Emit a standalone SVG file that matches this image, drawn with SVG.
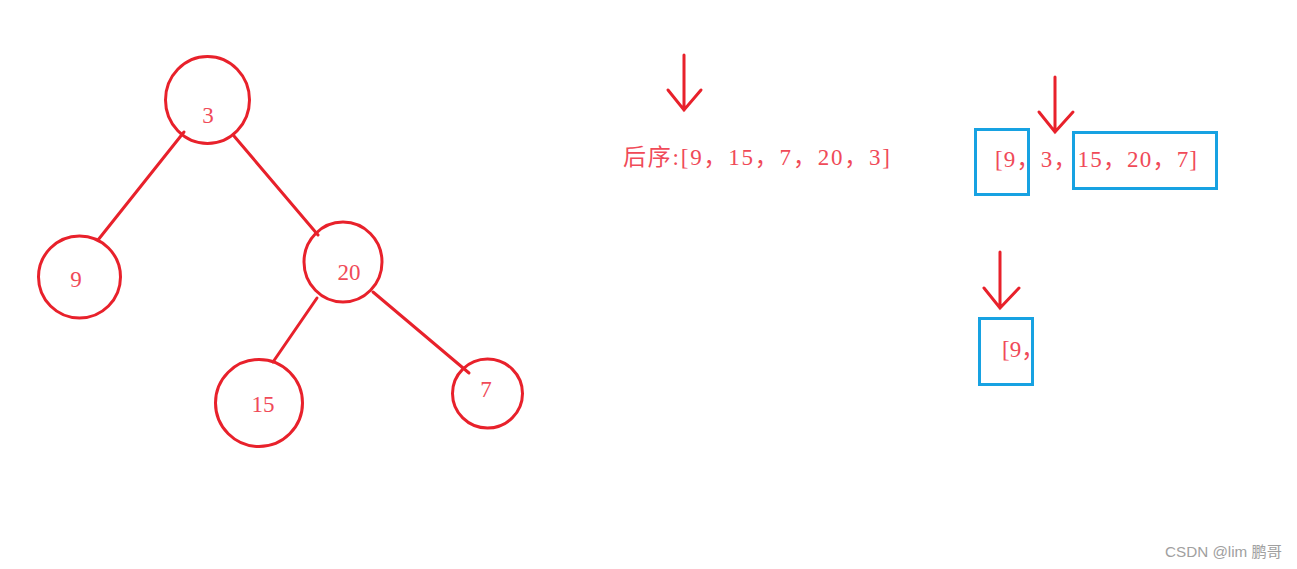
<svg xmlns="http://www.w3.org/2000/svg" width="1297" height="569" viewBox="0 0 1297 569">
<style>
.node{fill:none;stroke:#e8212b;stroke-width:3}
.edge{stroke:#e8212b;stroke-width:3;stroke-linecap:round;fill:none}
.lbl{font-family:"Liberation Serif","Noto Sans CJK SC",serif;font-size:23px;fill:#f04a58}
.box{fill:none;stroke:#17a2e2;stroke-width:3}
.arr{stroke:#e8212b;stroke-width:3;fill:none;stroke-linecap:round;stroke-linejoin:miter}
.wm{font-family:"Liberation Sans","Noto Sans CJK SC",sans-serif;font-size:15px;fill:#a0a0a0}
</style>
<rect width="1297" height="569" fill="#ffffff"/>
<g id="connectors">
<line class="edge" x1="184" y1="132" x2="98" y2="240"/>
<line class="edge" x1="234" y1="136" x2="318" y2="235"/>
<line class="edge" x1="317" y1="298" x2="273" y2="362"/>
<line class="edge" x1="373" y1="292" x2="469" y2="373"/>
</g>
<g id="node-3"><ellipse class="node" cx="207.5" cy="100" rx="42" ry="43.5"/><text class="lbl" x="208" y="123" text-anchor="middle">3</text></g>
<g id="node-9"><ellipse class="node" cx="79.5" cy="277" rx="41" ry="41"/><text class="lbl" x="76" y="287" text-anchor="middle">9</text></g>
<g id="node-20"><ellipse class="node" cx="343" cy="262" rx="39" ry="40"/><text class="lbl" x="349" y="280" text-anchor="middle">20</text></g>
<g id="node-15"><ellipse class="node" cx="259" cy="403" rx="43.5" ry="43.5"/><text class="lbl" x="263" y="412" text-anchor="middle">15</text></g>
<g id="node-7"><ellipse class="node" cx="487.5" cy="393.5" rx="35" ry="34.5"/><text class="lbl" x="486" y="397" text-anchor="middle">7</text></g>
<g id="postorder">
<path class="arr" d="M684 55 V110 M668 90 L684 110 L701 90"/>
<text class="lbl" x="623" y="165" textLength="267" lengthAdjust="spacing">后序:[9，15，7，20，3]</text>
</g>
<g id="split-1">
<path class="arr" d="M1055 77 V132 M1039 112 L1055 132 L1073 112"/>
<rect class="box" x="975.5" y="129.5" width="53" height="65"/>
<rect class="box" x="1073.5" y="132.5" width="143" height="56"/>
<text class="lbl" x="995" y="167" textLength="202" lengthAdjust="spacing">[9，3，15，20，7]</text>
</g>
<g id="split-2">
<path class="arr" d="M1000 252 V308 M984 288 L1000 308 L1019 288"/>
<rect class="box" x="979.5" y="318.5" width="53" height="66"/>
<text class="lbl" x="1002" y="357">[9，</text>
</g>
<text class="wm" x="1165" y="557" textLength="117" lengthAdjust="spacingAndGlyphs">CSDN @lim 鹏哥</text>
</svg>
